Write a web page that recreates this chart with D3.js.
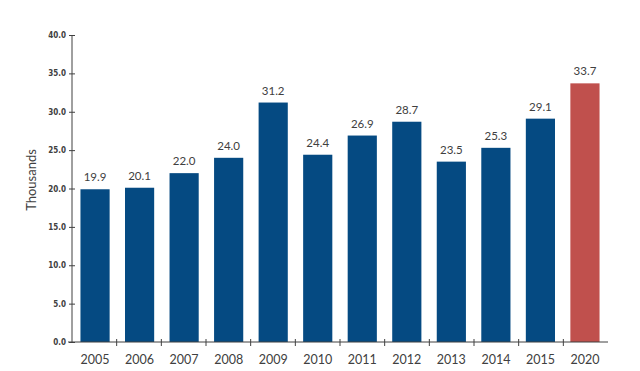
<!DOCTYPE html>
<html>
<head>
<meta charset="utf-8">
<script src="https://cdn.jsdelivr.net/npm/d3@7"></script>
<style>
  body { margin: 0; background: #fff; }
  .tick-y text { font-family: "Liberation Sans Narrow", "DejaVu Sans Condensed", sans-serif; font-weight: bold; font-size: 8px; fill: #404040; }
  .tick-x text { font-family: Lato, "Open Sans", sans-serif; font-size: 12.5px; fill: #404040; }
  .val { font-family: Lato, "Open Sans", sans-serif; font-size: 11.5px; fill: #404040; }
</style>
</head>
<body>
<script>
// data
var years = ["2005","2006","2007","2008","2009","2010","2011","2012","2013","2014","2015","2020"];
var values = [19.9, 20.1, 22.0, 24.0, 31.2, 24.4, 26.9, 28.7, 23.5, 25.3, 29.1, 33.7];
var yTicks = [0, 5, 10, 15, 20, 25, 30, 35, 40];

var width = 640, height = 371;
var x0 = 72, x1 = 608, yBase = 342, yTop = 35;

var svg = d3.select("body").append("svg")
    .attr("width", width)
    .attr("height", height);

var x = d3.scaleBand().domain(years).range([x0, x1]).paddingInner(0.345).paddingOuter(0.19);
var y = d3.scaleLinear().domain([0, 40]).range([yBase, yTop]);

/* ---- bars ---- */
svg.selectAll(".bar")
    .data(values)
  .enter().append("rect")
    .attr("class", "bar")
    .attr("x", (d, i) => x(years[i]))
    .attr("y", d => y(d))
    .attr("width", x.bandwidth())
    .attr("height", d => yBase - y(d))
    .attr("fill", (d, i) => years[i] == "2020" ? "#c0504d" : "#054a82");

svg.selectAll(".val")
    .data(values)
  .enter().append("text")
    .attr("class", "val")
    .attr("x", (d, i) => x(years[i]) + x.bandwidth() / 2)
    .attr("y", d => y(d) - 8)
    .attr("text-anchor", "middle")
    .text(d => d.toFixed(1));

/* ---- y axis ---- */
var yAxis = svg.append("g")
    .attr("class", "tick-y")
    .attr("transform", "translate(" + x0 + ",0)")
    .call(d3.axisLeft(y).tickValues(yTicks).tickFormat(d3.format(".1f")).tickSize(3).tickPadding(3));
yAxis.selectAll(".tick line").attr("x1", 3).attr("x2", -3).attr("stroke", "#404040");
yAxis.select(".domain").attr("stroke", "#404040").attr("d", "M0," + yBase + "V" + yTop);

/* ---- x axis ---- */
var bounds = years.map((d, i) => x0 + (x1 - x0) * (i + 1) / years.length);
var xAxis = svg.append("g")
    .attr("class", "tick-x")
    .attr("transform", "translate(0," + yBase + ")")
    .call(d3.axisBottom(x).tickSize(0).tickPadding(13));
xAxis.select(".domain").attr("stroke", "#404040").attr("d", "M" + (x0 - 4) + ",0H" + x1);
xAxis.selectAll(".bound")
    .data(bounds.slice(0, -1))
  .enter().append("line")
    .attr("class", "bound")
    .attr("x1", d => d).attr("x2", d => d)
    .attr("y1", -3).attr("y2", 4)
    .attr("stroke", "#404040");

svg.append("text")
    .attr("transform", "translate(36,180) rotate(-90)")
    .attr("text-anchor", "middle")
    .style("font-family", "Lato, 'Open Sans', sans-serif")
    .style("font-size", "13px")
    .style("fill", "#404040")
    .text("Thousands");
</script>
</body>
</html>
